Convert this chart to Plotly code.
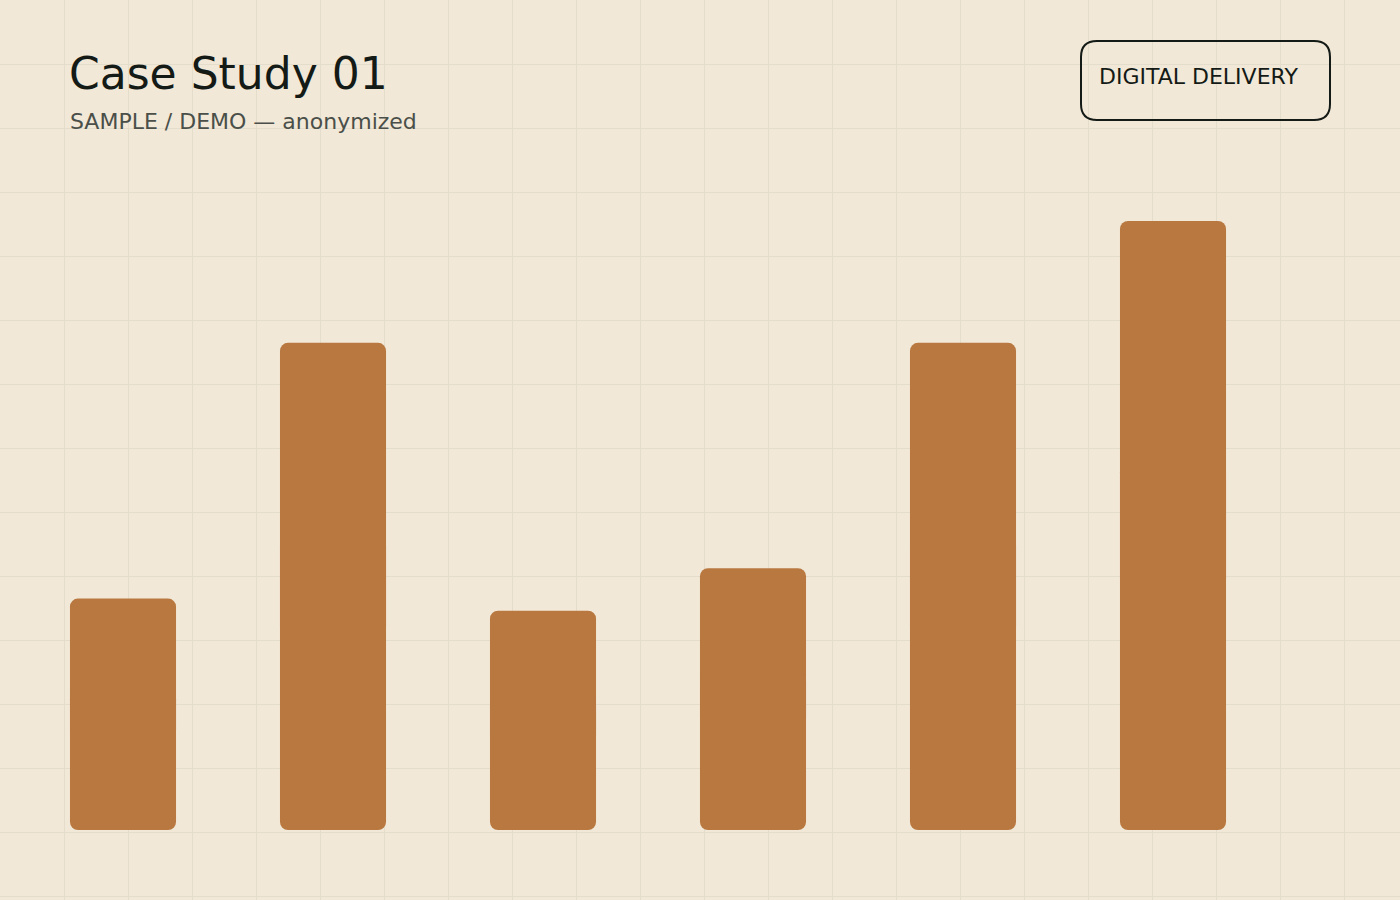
import plotly.graph_objects as go

# bar data
categories = ["P1", "P2", "P3", "P4", "P5", "P6"]
values = [38, 80, 36, 43, 80, 100]

title_text = "Case Study 01"
subtitle_text = "SAMPLE / DEMO — anonymized"
badge_text = "DIGITAL DELIVERY"

W, H = 1400, 900
BG = "#F2E8D7"
GRID = "#E5DDCB"
BAR = "#B87840"
INK = "#141A16"

fig = go.Figure()

# bars are split in two overlaid halves so both ends get rounded corners
low_base = [v * 0.4 for v in values]
high_base = [v * 0.6 for v in values]
fig.add_trace(go.Bar(
    x=categories, y=[v - b for v, b in zip(values, low_base)], base=low_base,
    marker=dict(color=BAR, cornerradius=8, line=dict(width=0)),
    width=0.505, xaxis="x2", yaxis="y2", hoverinfo="skip", showlegend=False,
))
fig.add_trace(go.Bar(
    x=categories, y=[-b for b in high_base], base=high_base,
    marker=dict(color=BAR, cornerradius=8, line=dict(width=0)),
    width=0.505, xaxis="x2", yaxis="y2",
    customdata=values, hovertemplate="%{x}: %{customdata}<extra></extra>",
    showlegend=False,
))

# empty trace so the background grid subplot exists
fig.add_trace(go.Scatter(x=[None], y=[None], xaxis="x", yaxis="y", showlegend=False))

# rounded badge box (pixel coords on the grid axes)
x0, x1, y0, y1, r = 1081, 1330, 41, 120, 16
badge_path = (
    f"M {x0 + r},{y0} L {x1 - r},{y0} Q {x1},{y0} {x1},{y0 + r} "
    f"L {x1},{y1 - r} Q {x1},{y1} {x1 - r},{y1} L {x0 + r},{y1} "
    f"Q {x0},{y1} {x0},{y1 - r} L {x0},{y0 + r} Q {x0},{y0} {x0 + r},{y0} Z"
)

fig.update_layout(
    width=W, height=H,
    margin=dict(l=0, r=0, t=0, b=0),
    paper_bgcolor=BG,
    plot_bgcolor="rgba(0,0,0,0)",
    font=dict(family="DejaVu Sans", color=INK),
    barmode="overlay",
    showlegend=False,
    xaxis=dict(range=[0, W], dtick=64, tick0=0, showgrid=True, gridcolor=GRID,
               gridwidth=1, zeroline=False, showticklabels=False, ticks="",
               domain=[0, 1], fixedrange=True),
    yaxis=dict(range=[H, 0], dtick=64, tick0=0, showgrid=True, gridcolor=GRID,
               gridwidth=1, zeroline=False, showticklabels=False, ticks="",
               domain=[0, 1], fixedrange=True),
    xaxis2=dict(range=[-123 / 210, (W - 123) / 210], anchor="y2", domain=[0, 1],
                showgrid=False, zeroline=False, showticklabels=False, ticks="",
                showline=False, type="category"),
    yaxis2=dict(range=[0, 100], anchor="x2", domain=[70 / H, (H - 221) / H],
                showgrid=False, zeroline=False, showticklabels=False, ticks="",
                showline=False),
    shapes=[dict(type="path", path=badge_path, xref="x", yref="y",
                 line=dict(color=INK, width=2), fillcolor="rgba(0,0,0,0)")],
    annotations=[
        dict(text=title_text, x=67, y=73, xref="x", yref="y", xanchor="left",
             yanchor="middle", showarrow=False, font=dict(size=44, color=INK)),
        dict(text=subtitle_text, x=68, y=121, xref="x", yref="y", xanchor="left",
             yanchor="middle", showarrow=False, font=dict(size=22, color="#4A4F49")),
        dict(text=badge_text, x=1097, y=76, xref="x", yref="y", xanchor="left",
             yanchor="middle", showarrow=False, font=dict(size=22, color=INK)),
    ],
)

# drop the default page margin so the figure sits at the window corner
fig.write_html(
    "out.html",
    config={"displayModeBar": False},
    post_script="document.body.style.margin='0';document.body.style.overflow='hidden';",
)
